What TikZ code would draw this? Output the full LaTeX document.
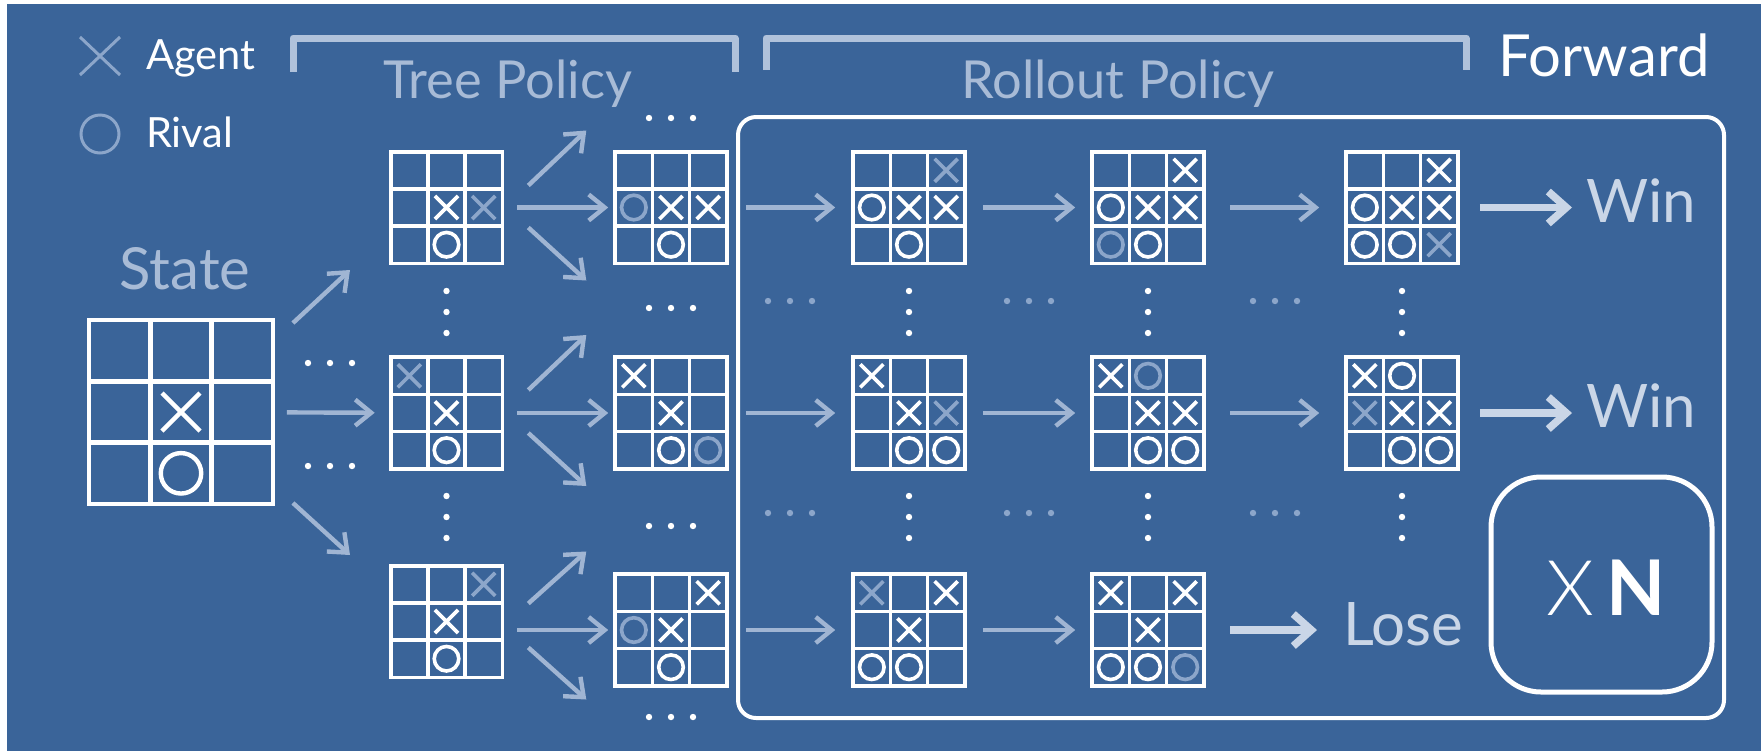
\documentclass[tikz,border=0pt]{standalone}
\usepackage{fontspec}
\setmainfont{Lato}
\newfontfamily\lightfont{Lato Light}
\usetikzlibrary{arrows.meta,calc}

\definecolor{bgblue}{RGB}{58,100,153}
\definecolor{dimmark}{RGB}{140,166,202}
\definecolor{arrowpale}{RGB}{160,181,211}
\definecolor{labelpale}{RGB}{168,187,214}
\definecolor{resultpale}{RGB}{202,214,231}
\definecolor{bracketpale}{RGB}{176,194,219}

\tikzset{
  boardframe/.style={draw=white, rectangle, inner sep=0pt, outer sep=0pt},
  txt/.style={inner sep=0pt, outer sep=0pt, font=\fontsize{#1}{#1}\selectfont},
  tarrow/.style={draw=arrowpale, line width=2.2pt, -{Straight Barb[length=8pt,width=13pt]}},
  rarrow/.style={draw=resultpale, line width=3.8pt, -{Straight Barb[length=9pt,width=16pt]}},
  bracket/.style={draw=bracketpale, line width=3.5pt, line join=round},
}

% tic-tac-toe grid: #1 name, #2 centre x, #3 centre y, #4 cell size, #5 stroke width
\newcommand\tttboard[5]{%
  \def\bx{#2}\def\by{#3}\def\bc{#4}\def\bw{#5}%
  \node[boardframe, line width=#5, minimum size={#4*1.5pt}] (#1) at (#2,#3) {};
  \draw[white, line width=#5]
    ({#2-#4/2},{#3-1.5*#4}) -- ({#2-#4/2},{#3+1.5*#4})
    ({#2+#4/2},{#3-1.5*#4}) -- ({#2+#4/2},{#3+1.5*#4})
    ({#2-1.5*#4},{#3-#4/2}) -- ({#2+1.5*#4},{#3-#4/2})
    ({#2-1.5*#4},{#3+#4/2}) -- ({#2+1.5*#4},{#3+#4/2});
}
% marks in the current board: #1 colour, #2 row, #3 column
\newcommand\markX[3]{%
  \draw[#1, line width=\bw]
    ({\bx+(#3-2)*\bc-0.31*\bc},{\by+(#2-2)*\bc-0.31*\bc}) -- ++({0.62*\bc},{0.62*\bc})
    ({\bx+(#3-2)*\bc-0.31*\bc},{\by+(#2-2)*\bc+0.31*\bc}) -- ++({0.62*\bc},{-0.62*\bc});
}
\newcommand\markO[3]{%
  \draw[#1, line width=\bw] ({\bx+(#3-2)*\bc},{\by+(#2-2)*\bc}) circle[radius={0.33*\bc}];
}
% ellipsis dots: #1 colour, #2 x, #3 y
\newcommand\dotrow[3]{\foreach \k in {-1,0,1} \fill[#1] ({#2+22*\k},#3) circle[radius=3.2];}
\newcommand\dotcol[3]{\foreach \k in {-1,0,1} \fill[#1] (#2,{#3+21*\k}) circle[radius=3.2];}

\begin{document}
\begin{tikzpicture}[x=0.5pt,y=-0.5pt]
\useasboundingbox (0,0) rectangle (1761,751);
\fill[white] (0,0) rectangle (1761,751);
\fill[bgblue] (7,4) rectangle (1761,751);

% legend
\draw[dimmark, line width=1.5pt] (80,37) -- (120,75) (80,75) -- (120,37);
\draw[dimmark, line width=1.5pt] (100,134) circle[radius=19];
\node[txt=20.8pt, white, anchor=base west] (agentlbl) at (146,69) {Agent};
\node[txt=20.8pt, white, anchor=base west] (rivallbl) at (146,147) {Rival};

% phase brackets and titles
\draw[bracket] (293,72) -- (293,38) -- (735,38) -- (735,72);
\draw[bracket] (766,70) -- (766,38) -- (1466,38) -- (1466,70);
\node[txt=26.2pt, labelpale, anchor=base] (treelbl) at (508,98) {Tree Policy};
\node[txt=26.2pt, labelpale, anchor=base] (rolllbl) at (1118,98) {Rollout Policy};
\node[txt=29pt, white, anchor=base] (fwdlbl) at (1604,76) {Forward};
\node[txt=29pt, labelpale, anchor=base] (statelbl) at (185,289) {State};

% rollout frame and repetition box
\node[draw=white, line width=2pt, rounded corners=9pt, minimum width={986*0.5pt},
      minimum height={601*0.5pt}, inner sep=0pt] (rollbox) at (1231,417.5) {};
\node[draw=white, line width=2.5pt, rounded corners=25pt, minimum width={221*0.5pt},
      minimum height={215*0.5pt}, inner sep=0pt] (nbox) at (1601.5,584.5) {};
\node[txt=38.4pt, white, anchor=base] (ntext) at (1606,615) {{\lightfont X}\hspace{6pt}\textbf{N}};

% root state
\tttboard{state}{181}{412}{61.3}{2.2pt}
\markX{white}{2}{2} \markO{white}{3}{2}

% tree level 1
\tttboard{c1r1}{446.5}{207.5}{37.2}{1.8pt}
\markX{white}{2}{2} \markO{white}{3}{2} \markX{dimmark}{2}{3}
\tttboard{c1r2}{446.5}{413}{37.2}{1.8pt}
\markX{dimmark}{1}{1} \markX{white}{2}{2} \markO{white}{3}{2}
\tttboard{c1r3}{446.5}{621.5}{37.2}{1.8pt}
\markX{dimmark}{1}{3} \markX{white}{2}{2} \markO{white}{3}{2}

% tree level 2
\tttboard{c2r1}{671}{207.5}{37.2}{1.8pt}
\markO{dimmark}{2}{1} \markX{white}{2}{2} \markX{white}{2}{3} \markO{white}{3}{2}
\tttboard{c2r2}{671}{413}{37.2}{1.8pt}
\markX{white}{1}{1} \markX{white}{2}{2} \markO{white}{3}{2} \markO{dimmark}{3}{3}
\tttboard{c2r3}{671}{630}{37.2}{1.8pt}
\markX{white}{1}{3} \markO{dimmark}{2}{1} \markX{white}{2}{2} \markO{white}{3}{2}

% rollout step 1
\tttboard{c3r1}{909}{207.5}{37.2}{1.8pt}
\markX{dimmark}{1}{3} \markO{white}{2}{1} \markX{white}{2}{2} \markX{white}{2}{3} \markO{white}{3}{2}
\tttboard{c3r2}{909}{413}{37.2}{1.8pt}
\markX{white}{1}{1} \markX{white}{2}{2} \markX{dimmark}{2}{3} \markO{white}{3}{2} \markO{white}{3}{3}
\tttboard{c3r3}{909}{630}{37.2}{1.8pt}
\markX{dimmark}{1}{1} \markX{white}{1}{3} \markX{white}{2}{2} \markO{white}{3}{1} \markO{white}{3}{2}

% rollout step 2
\tttboard{c4r1}{1148}{207.5}{37.2}{1.8pt}
\markX{white}{1}{3} \markO{white}{2}{1} \markX{white}{2}{2} \markX{white}{2}{3} \markO{dimmark}{3}{1} \markO{white}{3}{2}
\tttboard{c4r2}{1148}{413}{37.2}{1.8pt}
\markX{white}{1}{1} \markO{dimmark}{1}{2} \markX{white}{2}{2} \markX{white}{2}{3} \markO{white}{3}{2} \markO{white}{3}{3}
\tttboard{c4r3}{1148}{630}{37.2}{1.8pt}
\markX{white}{1}{1} \markX{white}{1}{3} \markX{white}{2}{2} \markO{white}{3}{1} \markO{white}{3}{2} \markO{dimmark}{3}{3}

% rollout step 3
\tttboard{c5r1}{1402}{207.5}{37.2}{1.8pt}
\markX{white}{1}{3} \markO{white}{2}{1} \markX{white}{2}{2} \markX{white}{2}{3} \markO{white}{3}{1} \markO{white}{3}{2} \markX{dimmark}{3}{3}
\tttboard{c5r2}{1402}{413}{37.2}{1.8pt}
\markX{white}{1}{1} \markO{white}{1}{2} \markX{dimmark}{2}{1} \markX{white}{2}{2} \markX{white}{2}{3} \markO{white}{3}{2} \markO{white}{3}{3}

% outcomes
\node[txt=30pt, resultpale, anchor=base west] (win1) at (1586,222) {Win};
\node[txt=30pt, resultpale, anchor=base west] (win2) at (1586,427) {Win};
\node[txt=30pt, resultpale, anchor=base west] (lose) at (1343,645) {Lose};

% ellipses
\dotrow{white}{330}{363} \dotrow{white}{330}{466}
\dotcol{white}{446.5}{312} \dotcol{white}{446.5}{517}
\dotrow{white}{671}{118} \dotrow{white}{671}{308}
\dotrow{white}{671}{526} \dotrow{white}{671}{717}
\dotcol{white}{909}{312} \dotcol{white}{909}{517}
\dotcol{white}{1148}{312} \dotcol{white}{1148}{517}
\dotcol{white}{1402}{312} \dotcol{white}{1402}{517}
\dotrow{dimmark}{790}{301} \dotrow{dimmark}{1029}{301} \dotrow{dimmark}{1275}{301}
\dotrow{dimmark}{790}{513} \dotrow{dimmark}{1029}{513} \dotrow{dimmark}{1275}{513}

% expansion arrows from the root
\coordinate (sup) at (350,270);
\coordinate (sdn) at (350,555);
\draw[tarrow] ($(state.north east)+(20,3)$) -- (sup);
\draw[tarrow, shorten <=7pt, shorten >=8pt] (state) -- (c1r2);
\draw[tarrow] ($(state.south east)+(20,-1)$) -- (sdn);

% expansion arrows from tree level 1
\foreach \r/\up/\dn in {1/-22/20, 2/-23/20} {
  \coordinate (u\r) at ($(c1r\r.east)+(84,\up-55)$);
  \coordinate (d\r) at ($(c1r\r.east)+(84,\dn+53)$);
  \draw[tarrow] ($(c1r\r.east)+(26,\up)$) -- (u\r);
  \draw[tarrow, shorten <=7.5pt, shorten >=3.5pt] (c1r\r) -- (c2r\r);
  \draw[tarrow] ($(c1r\r.east)+(26,\dn)$) -- (d\r);
}
\coordinate (u3) at ($(c1r3.east)+(84,-70)$);
\coordinate (d3) at ($(c1r3.east)+(84,78)$);
\draw[tarrow] ($(c1r3.east)+(26,-18)$) -- (u3);
\draw[tarrow, shorten <=7.5pt, shorten >=3.5pt] (c1r3.east |- c2r3) -- (c2r3.west);
\draw[tarrow] ($(c1r3.east)+(26,26)$) -- (d3);

% rollout steps
\foreach \r in {1,2,3} {
  \draw[tarrow, shorten <=9.5pt, shorten >=9pt] (c2r\r) -- (c3r\r);
  \draw[tarrow, shorten <=9pt, shorten >=8.5pt] (c3r\r) -- (c4r\r);
}
\foreach \r in {1,2} {
  \draw[tarrow, shorten <=13pt, shorten >=13.5pt] (c4r\r) -- (c5r\r);
}
\draw[rarrow, shorten <=11pt, shorten >=7pt] (c5r1.east) -- (c5r1.east -| win1.west);
\draw[rarrow, shorten <=11pt, shorten >=7pt] (c5r2.east) -- (c5r2.east -| win2.west);
\draw[rarrow, shorten <=13pt, shorten >=13pt] (c4r3.east) -- (c4r3.east -| lose.west);
\end{tikzpicture}
\end{document}
